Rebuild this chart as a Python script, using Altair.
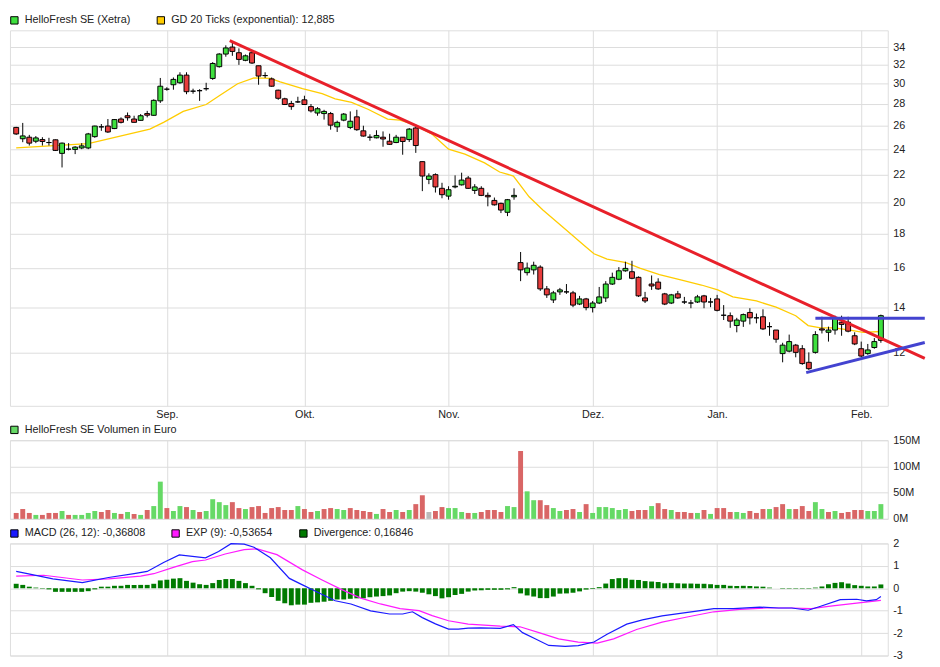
import altair as alt
import pandas as pd

# ---------------- labels ----------------
PRICE_LABEL = "HelloFresh SE (Xetra)"
EMA_LABEL = "GD 20 Ticks (exponential): 12,885"
VOL_LABEL = "HelloFresh SE Volumen in Euro"
MACD_LABEL = "MACD (26, 12): -0,36808"
EXP_LABEL = "EXP (9): -0,53654"
DIV_LABEL = "Divergence: 0,16846"

MONTH_IDX = [23, 44, 66, 88, 107, 129]
MONTH_LABELS = ["Sep.", "Okt.", "Nov.", "Dez.", "Jan.", "Feb."]
PRICE_TICKS = [12, 14, 16, 18, 20, 22, 24, 26, 28, 30, 32, 34]
VOL_TICKS = [0, 50, 100, 150]
MACD_TICKS = [-3, -2, -1, 0, 1, 2]

# ---------------- daily candles (trading-day index 0..132) ----------------
OPEN = [25.85, 24.87, 25.0, 24.66, 24.8, 24.55, 24.78, 23.66, 24.0, 23.98,
        24.1, 24.1, 25.05, 25.9, 25.97, 25.75, 26.6, 26.9, 26.6, 26.48,
        27.1, 26.94, 28.3, 29.45, 29.9, 30.1, 30.9, 29.25, 29.3, 29.5,
        30.55, 31.8, 33.2, 34.0, 33.35, 32.5, 33.35, 31.9, 30.85, 30.5,
        29.35, 28.5, 28.05, 28.2, 28.4, 27.75, 27.15, 27.1, 27.1, 25.9,
        26.5, 25.85, 26.8, 25.55, 25.0, 24.95, 25.0, 24.66, 24.55, 25.0,
        24.8, 25.8, 23.0, 21.65, 22.0, 21.0, 20.45, 21.1, 21.25, 21.75,
        20.85, 21.0, 20.5, 20.15, 19.95, 19.35, 20.4, 16.3, 15.75, 15.9,
        16.05, 14.9, 14.35, 14.75, 14.75, 14.7, 14.15, 14.4, 13.98, 14.2,
        14.45, 15.15, 15.4, 15.85, 15.8, 15.5, 14.45, 15.15, 15.25, 14.65,
        14.2, 14.65, 14.25, 14.2, 14.25, 14.55, 14.25, 14.4, 13.62, 13.6,
        13.15, 13.35, 13.75, 13.5, 13.55, 13.1, 12.95, 11.95, 12.05, 12.3,
        12.15, 11.6, 12.0, 13.0, 12.85, 12.95, 13.3, 13.3, 12.7, 12.15,
        11.95, 12.2, 12.5]
HIGH = [25.9, 26.25, 25.2, 25.1, 25.0, 24.95, 24.8, 24.55, 24.5, 24.25,
        24.5, 25.37, 26.0, 26.15, 26.6, 26.6, 26.75, 27.2, 26.9, 27.05,
        27.35, 28.45, 30.6, 29.65, 30.65, 31.2, 31.2, 29.5, 29.45, 30.1,
        32.3, 33.3, 34.2, 34.5, 33.85, 33.15, 33.6, 31.9, 31.2, 30.65,
        29.4, 28.6, 28.3, 28.7, 28.8, 28.0, 27.7, 27.45, 27.25, 26.45,
        27.15, 27.3, 27.45, 26.0, 25.25, 25.6, 25.5, 25.3, 25.2, 25.0,
        25.8, 26.1, 23.0, 22.1, 22.1, 21.4, 21.15, 21.95, 22.15, 21.9,
        21.3, 21.15, 20.7, 20.35, 20.0, 20.25, 21.0, 16.9, 16.3, 16.35,
        16.15, 15.05, 14.8, 14.95, 15.15, 14.8, 14.55, 14.45, 14.3, 15.0,
        15.3, 15.75, 16.05, 16.35, 16.4, 15.55, 14.75, 15.6, 15.45, 14.7,
        14.65, 14.8, 14.5, 14.35, 14.6, 14.6, 14.45, 14.6, 14.1, 13.75,
        13.5, 13.7, 13.95, 13.7, 13.9, 13.3, 12.95, 12.4, 12.75, 12.35,
        12.3, 12.0, 12.9, 13.55, 13.1, 13.6, 13.6, 13.55, 12.85, 12.45,
        12.35, 12.6, 13.65]
LOW = [25.2, 24.58, 24.3, 24.5, 24.3, 24.3, 23.85, 22.55, 23.9, 23.6,
       24.0, 24.0, 24.95, 25.55, 25.37, 25.7, 26.2, 26.45, 26.3, 26.45,
       26.75, 26.9, 28.1, 29.3, 29.4, 30.0, 28.95, 29.0, 28.3, 29.3,
       30.4, 31.7, 32.9, 33.0, 32.0, 32.4, 32.1, 29.9, 30.6, 29.7,
       28.4, 27.9, 27.45, 28.1, 27.9, 27.2, 26.9, 26.55, 25.65, 25.45,
       26.4, 25.7, 25.55, 25.05, 24.7, 24.9, 24.2, 24.35, 24.5, 23.55,
       24.6, 23.7, 20.8, 21.3, 20.7, 20.3, 20.2, 21.0, 21.2, 20.95,
       20.6, 20.45, 19.75, 19.8, 19.3, 19.1, 20.2, 15.3, 15.6, 15.65,
       14.8, 14.45, 14.2, 14.6, 14.65, 14.0, 14.1, 13.85, 13.75, 14.15,
       14.25, 15.1, 15.35, 15.8, 15.4, 14.5, 14.2, 14.85, 14.85, 14.1,
       14.15, 14.4, 14.15, 13.95, 14.2, 13.95, 14.0, 13.8, 13.4, 13.05,
       12.85, 13.09, 13.2, 13.25, 12.95, 12.7, 12.4, 11.6, 12.0, 11.8,
       11.5, 11.3, 11.95, 12.8, 12.45, 12.75, 12.7, 12.85, 12.3, 11.8,
       11.9, 12.15, 12.4]
CLOSE = [25.28, 25.11, 24.5, 24.94, 24.64, 24.55, 23.9, 24.5, 24.0, 24.17,
         24.27, 25.28, 25.97, 25.9, 25.45, 26.55, 26.3, 26.72, 26.3, 26.9,
         26.95, 28.35, 29.75, 29.45, 30.45, 30.9, 29.2, 29.25, 29.3, 29.5,
         32.15, 33.2, 33.9, 33.5, 32.6, 33.0, 32.2, 30.8, 30.85, 29.75,
         28.55, 27.95, 27.75, 28.2, 27.95, 27.35, 27.55, 27.3, 26.05, 26.3,
         27.05, 26.4, 25.65, 25.1, 25.0, 25.15, 24.85, 24.4, 25.0, 24.64,
         25.7, 24.3, 21.9, 21.9, 21.1, 20.55, 20.9, 21.15, 21.6, 21.0,
         21.1, 20.5, 20.4, 19.85, 19.5, 20.2, 20.5, 15.9, 16.0, 16.15,
         14.9, 14.6, 14.7, 14.85, 14.75, 14.1, 14.4, 13.98, 14.2, 14.5,
         15.15, 15.5, 15.85, 15.98, 15.45, 14.55, 14.3, 15.05, 14.9, 14.15,
         14.6, 14.45, 14.25, 14.2, 14.5, 14.25, 14.25, 13.85, 13.62, 13.35,
         13.4, 13.65, 13.5, 13.5, 13.0, 13.1, 12.55, 12.3, 12.45, 12.0,
         11.55, 11.35, 12.75, 12.95, 12.95, 13.5, 13.2, 12.9, 12.35, 11.85,
         12.1, 12.45, 13.6]

# 20-day exponential average, read at points along the line
EMA_IDX = [0, 11, 20.4, 22.5, 25.5, 29, 31, 33.8, 36.3, 38.8, 40.3, 43.7, 46.7,
           48.7, 51.2, 53.7, 56.7, 58.6, 60.5, 63.5, 66, 68.5, 71.5, 73.8, 75.9,
           78.3, 80.4, 83.3, 86.8, 88.2, 90.2, 93.1, 95.2, 98.2, 101.6, 104.6,
           107.1, 109.4, 113, 116, 119, 120.9, 122.8, 124.9, 127.3, 129.3, 132]
EMA_VAL = [24.1, 24.45, 25.7, 26.3, 27.3, 27.95, 28.8, 30.0, 30.6, 30.55, 30.2, 29.5, 29.0,
           28.5, 28.15, 27.5, 26.6, 26.5, 26.15, 25.25, 24.0, 23.6, 22.9, 22.2, 21.9,
           20.4, 19.5, 18.45, 17.25, 16.8, 16.5, 16.3, 16.0, 15.65, 15.35, 15.1,
           14.85, 14.5, 14.3, 14.0, 13.6, 13.15, 13.05, 13.05, 12.95, 12.85, 12.885]

# hand-drawn trend lines (start / end point)
RED_IDX = [32.6, 138.7]
RED_VAL = [34.76, 11.76]
BLUE_FLAT_IDX = [122, 138.7]
BLUE_FLAT_VAL = [13.48, 13.48]
BLUE_RISE_IDX = [120.6, 138.7]
BLUE_RISE_VAL = [11.2, 12.41]

# ---------------- volume (million euro) ----------------
VOLUME = [11.25, 18.75, 11.25, 7.5, 7.5, 11.25, 11.25, 15, 7.5, 7.5,
          7.5, 11.25, 15, 13.1, 16.9, 11.25, 9.4, 13.1, 9.4, 7.5,
          16.9, 24.4, 71, 20.6, 15, 24.4, 22.5, 16.9, 13.1, 15,
          37.5, 31.9, 26.25, 31.9, 20.6, 18.75, 22.5, 24.4, 11.25, 20.6,
          22.5, 16.9, 16.9, 24.4, 18.75, 13.1, 15, 18.75, 20.6, 18.75,
          16.9, 20.6, 16.9, 15, 13.1, 9.4, 18.75, 13.1, 16.9, 13.1,
          16.9, 28.1, 45, 13.1, 15, 22.5, 20.6, 20.6, 13.1, 11.25,
          11.25, 13.1, 16.9, 16.9, 13.1, 24.4, 22.5, 129.4, 52.5, 35.6,
          35.6, 26.25, 20.6, 15, 16.9, 18.75, 13.1, 28.1, 11.25, 22.5,
          22.5, 20.6, 16.9, 18.75, 15, 16.9, 16.9, 24.4, 30, 18.75,
          16.9, 13.1, 13.1, 11.25, 11.25, 16.9, 9.4, 20.6, 20.6, 13.1,
          13.1, 11.25, 15, 11.25, 18.75, 18.75, 22.5, 28.1, 18.75, 18.75,
          24.4, 15, 31.9, 18.75, 13.1, 15, 11.25, 13.1, 16.9, 16.9,
          15, 15, 28.1]
VOL_DIR = ["d", "d", "d", "u", "d", "d", "d", "u", "d", "u",
           "u", "u", "u", "d", "d", "u", "d", "u", "d", "u",
           "d", "u", "u", "d", "u", "u", "d", "u", "d", "u",
           "u", "u", "u", "d", "d", "u", "d", "d", "d", "d",
           "d", "d", "d", "u", "d", "d", "u", "d", "d", "u",
           "u", "d", "d", "d", "d", "u", "d", "d", "u", "d",
           "u", "d", "d", "n", "d", "d", "u", "u", "u", "d",
           "u", "d", "d", "d", "d", "u", "u", "d", "u", "u",
           "d", "d", "u", "u", "d", "d", "u", "d", "u", "u",
           "u", "u", "u", "u", "d", "d", "d", "u", "d", "d",
           "u", "d", "d", "d", "u", "d", "u", "d", "d", "d",
           "u", "u", "d", "d", "d", "u", "d", "d", "u", "d",
           "d", "d", "u", "u", "d", "u", "d", "d", "d", "d",
           "u", "u", "u"]

# ---------------- MACD ----------------
DIVERGENCE = [0.2, 0.15, 0.07, 0.03, -0.02, -0.05, -0.16, -0.16, -0.16, -0.16,
              -0.16, -0.13, -0.05, 0.07, 0.07, 0.11, 0.11, 0.15, 0.15, 0.15,
              0.15, 0.2, 0.35, 0.38, 0.43, 0.45, 0.33, 0.25, 0.18, 0.15,
              0.23, 0.37, 0.41, 0.41, 0.33, 0.23, 0.11, -0.05, -0.22, -0.39,
              -0.56, -0.67, -0.76, -0.73, -0.73, -0.65, -0.63, -0.6, -0.56, -0.5,
              -0.5, -0.47, -0.45, -0.45, -0.4, -0.37, -0.35, -0.32, -0.22, -0.15,
              -0.13, -0.15, -0.2, -0.27, -0.35, -0.45, -0.4, -0.3, -0.25, -0.15,
              -0.1, -0.09, -0.07, -0.07, -0.07, -0.05, 0.05, -0.23, -0.32, -0.37,
              -0.44, -0.44, -0.37, -0.24, -0.23, -0.2, -0.14, -0.06, -0.03, 0.05,
              0.21, 0.41, 0.45, 0.45, 0.38, 0.37, 0.32, 0.3, 0.28, 0.22,
              0.24, 0.22, 0.21, 0.21, 0.2, 0.2, 0.18, 0.15, 0.15, 0.11,
              0.1, 0.11, 0.1, 0.08, 0.07, 0.03, 0.0, -0.02, -0.02, -0.02,
              -0.02, -0.02, 0.03, 0.08, 0.18, 0.24, 0.27, 0.21, 0.14, 0.11,
              0.08, 0.08, 0.17]
MACD_IDX = [0, 1.7, 5.6, 10.1, 14.1, 18, 20, 22.5, 24.9, 28.9, 30.9, 32.8, 34.8, 36.3,
            38.8, 41.7, 43.7, 45.7, 48.7, 51.1, 54.1, 57, 59, 60.5, 62, 64, 66, 67.5,
            69, 70.9, 73.9, 75.9, 77.3, 79.3, 81.3, 83.8, 85.8, 88.2, 90.2, 93.2,
            95.6, 98.6, 101.1, 103.6, 106.5, 109.5, 113.5, 116.4, 118.4, 120.9,
            122.8, 125.8, 128.3, 129.8, 131.3, 132]
MACD_VAL = [0.75, 0.65, 0.42, 0.25, 0.48, 0.65, 0.75, 1.15, 1.49, 1.36, 1.64, 1.99, 1.97, 1.83,
            1.36, 0.44, 0.15, -0.13, -0.56, -0.7, -1.01, -1.15, -1.15, -1.05, -1.31, -1.59, -1.82, -1.82,
            -1.78, -1.77, -1.79, -1.62, -1.98, -2.26, -2.55, -2.59, -2.56, -2.4, -2.05, -1.6,
            -1.41, -1.23, -1.13, -1.03, -0.91, -0.91, -0.84, -0.88, -0.88, -0.98,
            -0.8, -0.51, -0.49, -0.56, -0.51, -0.37]
SIGNAL_IDX = [0, 4.2, 10.1, 14.1, 19, 21, 24, 26.9, 28.9, 31.9, 34.8, 36.8, 39.8, 43.7,
              46.7, 49.7, 52.6, 55.6, 58.6, 61.5, 63.5, 66, 69, 73.9, 76.9, 79.8, 82.8,
              85.8, 88.7, 91.2, 94.7, 98.6, 102.6, 106.5, 110.5, 114.5, 118.4, 121.4,
              124.3, 128.3, 132]
SIGNAL_VAL = [0.54, 0.58, 0.37, 0.42, 0.54, 0.65, 0.93, 1.19, 1.26, 1.53, 1.72, 1.76, 1.5, 0.82,
              0.37, -0.06, -0.44, -0.7, -0.91, -1.0, -1.22, -1.45, -1.6, -1.69, -1.72, -1.98, -2.26,
              -2.4, -2.45, -2.26, -1.84, -1.51, -1.27, -1.05, -0.94, -0.88, -0.88, -0.91,
              -0.8, -0.66, -0.54]

# ---------------- styling ----------------
FONT = "Liberation Sans"
FS = 11
TXT = "#222222"
GRID = "#dcdcdc"
UP = "#3ee03e"
DOWN = "#e83c3c"
GOLD = "#ffcc00"
RED = "#e8202a"
BLUE = "#4343d0"
VUP = "#66d966"
VDOWN = "#d96666"
VFLAT = "#bbbbbb"
MBLUE = "#1a1aff"
MMAG = "#ff1aff"
MGREEN = "#007a00"

W = 893
H_PRICE, H_VOL, H_MACD = 382, 80, 114
N = len(CLOSE)

month_expr = " : ".join(f"datum.value == {i} ? '{l}'" for i, l in zip(MONTH_IDX, MONTH_LABELS)) + " : ''"
xscale = alt.Scale(domain=[-0.2, 132.3], nice=False, zero=False)


def xaxis(labels):
    return alt.Axis(values=MONTH_IDX, labelExpr=month_expr, labels=labels, ticks=False,
                    grid=True, gridColor=GRID, domain=False, title=None,
                    labelFont=FONT, labelFontSize=FS, labelColor=TXT, labelPadding=3)


def yaxis(values, expr):
    return alt.Axis(orient="right", values=values, labelExpr=expr, ticks=False, grid=True,
                    gridColor=GRID, domain=False, title=None, labelFont=FONT,
                    labelFontSize=FS, labelColor=TXT, labelPadding=5)


def legend(values):
    return alt.Legend(values=values, orient="none", legendX=-1, legendY=-16,
                      direction="horizontal", title=None, symbolType="square",
                      symbolSize=56, symbolStrokeColor="black", symbolStrokeWidth=1,
                      symbolOpacity=1, labelFont=FONT, labelFontSize=FS, labelColor=TXT,
                      labelLimit=500, columnPadding=24, labelOffset=5, padding=0)


# ---------------- price panel ----------------
price_df = pd.DataFrame({"i": list(range(N)), "open": OPEN, "high": HIGH,
                         "low": LOW, "close": CLOSE})
price_df["kind"] = [PRICE_LABEL if c >= o else "down" for o, c in zip(OPEN, CLOSE)]
ema_df = pd.DataFrame({"i": EMA_IDX, "p": EMA_VAL})
red_df = pd.DataFrame({"i": RED_IDX, "p": RED_VAL})
blue_df = pd.DataFrame({"i": BLUE_FLAT_IDX + BLUE_RISE_IDX, "p": BLUE_FLAT_VAL + BLUE_RISE_VAL,
                        "line": ["flat"] * 2 + ["rise"] * 2})

pscale = alt.Scale(type="log", domain=[10, 36], nice=False, zero=False)
paxis = yaxis(PRICE_TICKS, "'' + datum.value")
XP = alt.X("i:Q", scale=xscale, axis=xaxis(True))

wick = alt.Chart(price_df).mark_rule(color="black", strokeWidth=1).encode(
    x=XP, y=alt.Y("low:Q", scale=pscale, axis=paxis), y2="high:Q")
body = alt.Chart(price_df).mark_bar(size=5, stroke="black", strokeWidth=1).encode(
    x=XP, y=alt.Y("open:Q", scale=pscale, axis=paxis), y2="close:Q",
    color=alt.Color("kind:N", scale=alt.Scale(domain=[PRICE_LABEL, EMA_LABEL, "down"],
                                              range=[UP, GOLD, DOWN]),
                    legend=legend([PRICE_LABEL, EMA_LABEL])))
ema = alt.Chart(ema_df).mark_line(color=GOLD, strokeWidth=1.3).encode(
    x=XP, y=alt.Y("p:Q", scale=pscale, axis=paxis))
red = alt.Chart(red_df).mark_line(color=RED, strokeWidth=3, clip=False).encode(
    x=XP, y=alt.Y("p:Q", scale=pscale, axis=paxis))
blue = alt.Chart(blue_df).mark_line(color=BLUE, strokeWidth=3, clip=False).encode(
    x=XP, y=alt.Y("p:Q", scale=pscale, axis=paxis), detail="line:N")

price = alt.layer(ema, wick, body, red, blue).properties(width=W, height=H_PRICE)

# ---------------- volume panel ----------------
vol_df = pd.DataFrame({"i": list(range(N)), "v": VOLUME})
vol_df["kind"] = [VOL_LABEL if d == "u" else ("down" if d == "d" else "flat") for d in VOL_DIR]
XV = alt.X("i:Q", scale=xscale, axis=xaxis(False))
volume = alt.Chart(vol_df).mark_bar(size=5).encode(
    x=XV,
    y=alt.Y("v:Q", scale=alt.Scale(domain=[0, 150], nice=False),
            axis=yaxis(VOL_TICKS, "datum.value + 'M'")),
    color=alt.Color("kind:N", scale=alt.Scale(domain=[VOL_LABEL, "down", "flat"],
                                              range=[VUP, VDOWN, VFLAT]),
                    legend=legend([VOL_LABEL]))
).properties(width=W, height=H_VOL)

# ---------------- MACD panel ----------------
div_df = pd.DataFrame({"i": list(range(N)), "d": DIVERGENCE, "kind": [DIV_LABEL] * N})
macd_df = pd.DataFrame({"i": MACD_IDX, "m": MACD_VAL})
sig_df = pd.DataFrame({"i": SIGNAL_IDX, "m": SIGNAL_VAL})
mscale = alt.Scale(domain=[-3, 2], nice=False)
maxis = yaxis(MACD_TICKS, "'' + datum.value")
XM = alt.X("i:Q", scale=xscale, axis=xaxis(False))

div_bars = alt.Chart(div_df).mark_bar(size=5).encode(
    x=XM, y=alt.Y("d:Q", scale=mscale, axis=maxis), y2=alt.datum(0),
    color=alt.Color("kind:N", scale=alt.Scale(domain=[MACD_LABEL, EXP_LABEL, DIV_LABEL],
                                              range=[MBLUE, MMAG, MGREEN]),
                    legend=legend([MACD_LABEL, EXP_LABEL, DIV_LABEL])))
sig_line = alt.Chart(sig_df).mark_line(color=MMAG, strokeWidth=1.2).encode(
    x=XM, y=alt.Y("m:Q", scale=mscale, axis=maxis))
macd_line = alt.Chart(macd_df).mark_line(color=MBLUE, strokeWidth=1.2).encode(
    x=XM, y=alt.Y("m:Q", scale=mscale, axis=maxis))
macd = alt.layer(div_bars, sig_line, macd_line).properties(width=W, height=H_MACD)

# ---------------- assemble ----------------
upper = alt.vconcat(price, volume, spacing=35, bounds="flush").resolve_scale(
    color="independent", y="independent").resolve_legend(color="independent")
chart = alt.vconcat(upper, macd, spacing=2, bounds="full").resolve_scale(
    color="independent", y="independent").resolve_legend(color="independent").properties(
    padding={"left": 0, "top": 0, "right": 0, "bottom": 0}
).configure_view(stroke="#c8c8c8").configure(font=FONT)

chart.save("out.html", embed_options={"renderer": "svg", "actions": False})
